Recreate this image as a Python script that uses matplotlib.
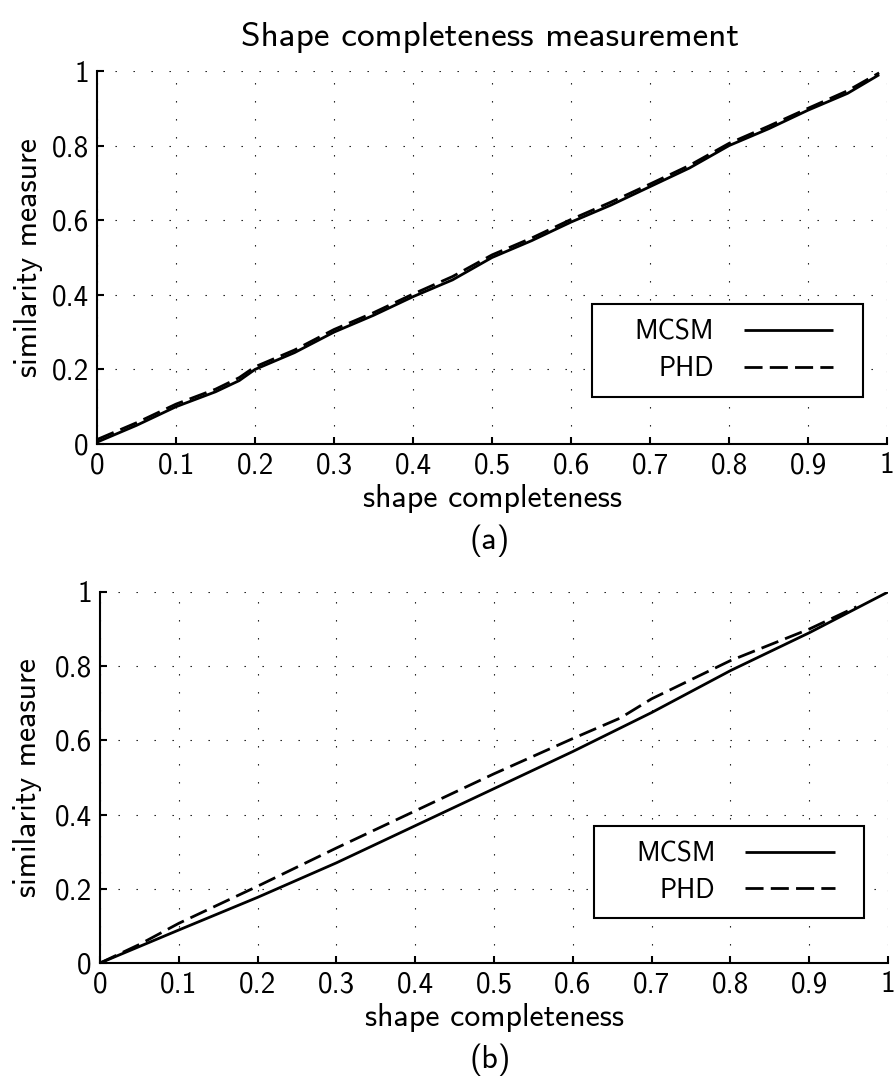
import matplotlib
matplotlib.use("Agg")
import matplotlib.pyplot as plt
from matplotlib.patches import Rectangle

# ---- data ----
x_top_mcsm = [0.0, 0.05, 0.10, 0.15, 0.18, 0.20, 0.25, 0.30, 0.35, 0.40, 0.45, 0.50,
              0.55, 0.60, 0.65, 0.70, 0.75, 0.80, 0.85, 0.90, 0.95, 0.99]
y_top_mcsm = [0.005, 0.05, 0.10, 0.14, 0.17, 0.20, 0.245, 0.30, 0.345, 0.395, 0.44, 0.50,
              0.545, 0.595, 0.64, 0.69, 0.74, 0.80, 0.845, 0.895, 0.94, 0.99]
x_top_phd = [0.0, 0.05, 0.10, 0.15, 0.18, 0.20, 0.25, 0.30, 0.35, 0.40, 0.45, 0.50,
             0.55, 0.60, 0.65, 0.70, 0.75, 0.80, 0.85, 0.90, 0.95, 0.99]
y_top_phd = [0.012, 0.057, 0.107, 0.147, 0.178, 0.207, 0.252, 0.307, 0.352, 0.402, 0.449, 0.507,
             0.552, 0.602, 0.648, 0.697, 0.747, 0.806, 0.852, 0.900, 0.947, 0.995]

x_bot_mcsm = [0.0, 0.1, 0.2, 0.3, 0.4, 0.5, 0.6, 0.7, 0.8, 0.9, 1.0]
y_bot_mcsm = [0.0, 0.089, 0.177, 0.27, 0.37, 0.47, 0.57, 0.675, 0.788, 0.89, 1.0]
x_bot_phd = [0.0, 0.05, 0.10, 0.20, 0.30, 0.40, 0.50, 0.60, 0.66, 0.70, 0.80, 0.90, 0.96]
y_bot_phd = [0.0, 0.05, 0.107, 0.207, 0.31, 0.41, 0.51, 0.605, 0.66, 0.712, 0.815, 0.90, 0.96]

xticks = [0, 0.1, 0.2, 0.3, 0.4, 0.5, 0.6, 0.7, 0.8, 0.9, 1]
xticklabels = ["0", "0.1", "0.2", "0.3", "0.4", "0.5", "0.6", "0.7", "0.8", "0.9", "1"]
yticks = [0, 0.2, 0.4, 0.6, 0.8, 1]
yticklabels = ["0", "0.2", "0.4", "0.6", "0.8", "1"]

title = "Shape completeness measurement"
xlabel = "shape completeness"
ylabel = "similarity measure"
series_names = ["MCSM", "PHD"]

plt.rcParams['font.family'] = ['cmss10', 'DejaVu Sans']
plt.rcParams['axes.unicode_minus'] = False
FS = 21      # tick labels
LFS = 23     # axis labels
TFS = 25.4   # title
GFS = 19.5   # legend

fig = plt.figure(figsize=(8.96, 10.84), dpi=100)
ax1 = fig.add_axes([0.1083, 0.5904, 0.8817, 0.3441])
ax2 = fig.add_axes([0.1116, 0.1116, 0.8795, 0.3423])

def style(ax, xm, ym, xp, yp, box, ylab_x):
    ax.plot(xm, ym, color='black', lw=2.0, label=series_names[0], solid_capstyle='butt')
    ax.plot(xp, yp, color='black', lw=2.0, dashes=(6.5, 2.6), label=series_names[1])
    ax.set_xlim(0, 1)
    ax.set_ylim(0, 1)
    ax.set_xticks(xticks)
    ax.set_xticklabels(xticklabels)
    ax.set_yticks(yticks)
    ax.set_yticklabels(yticklabels)
    for s in ['top', 'right']:
        ax.spines[s].set_visible(False)
    for s in ['left', 'bottom']:
        ax.spines[s].set_linewidth(1.5)
    ax.tick_params(direction='in', length=5, width=1.5, labelsize=FS, pad=6,
                   top=False, right=False)
    ax.grid(True, color='black', lw=0.8, linestyle=(0, (1.2, 15)))
    ax.set_axisbelow(False)
    ax.set_xlabel(xlabel, fontsize=LFS, labelpad=3)
    ax.set_ylabel(ylabel, fontsize=LFS)
    ax.yaxis.set_label_coords(ylab_x, 0.5)
    # legend frame (axes coords): x0, y0, x1, y1
    x0, y0, x1, y1 = box
    ax.add_patch(Rectangle((x0, y0), x1 - x0, y1 - y0, transform=ax.transAxes,
                           facecolor='white', edgecolor='black', lw=1.5, zorder=4))
    cx = x0 + 0.524 * (x1 - x0)
    cy = 0.5 * (y0 + y1)
    leg = ax.legend(loc='center', bbox_to_anchor=(cx, cy), fontsize=GFS,
                    markerfirst=False, frameon=False, handlelength=3.3,
                    handletextpad=1.1, borderpad=0.0, labelspacing=0.42,
                    borderaxespad=0)
    leg.set_zorder(5)
    for t in leg.get_texts():
        t.set_ha('center')

style(ax1, x_top_mcsm, y_top_mcsm, x_top_phd, y_top_phd,
      (0.6266, 0.126, 0.9696, 0.3753), -0.068)
style(ax2, x_bot_mcsm, y_bot_mcsm, x_bot_phd, y_bot_phd,
      (0.6266, 0.120, 0.9696, 0.3693), -0.073)

fig.text(0.547, 0.965, title, fontsize=TFS, ha='center', va='center')
fig.text(0.547, 0.5009, "(a)", fontsize=LFS, ha='center', va='center')
fig.text(0.547, 0.0221, "(b)", fontsize=LFS, ha='center', va='center')

fig.savefig("out.png", dpi=100)
